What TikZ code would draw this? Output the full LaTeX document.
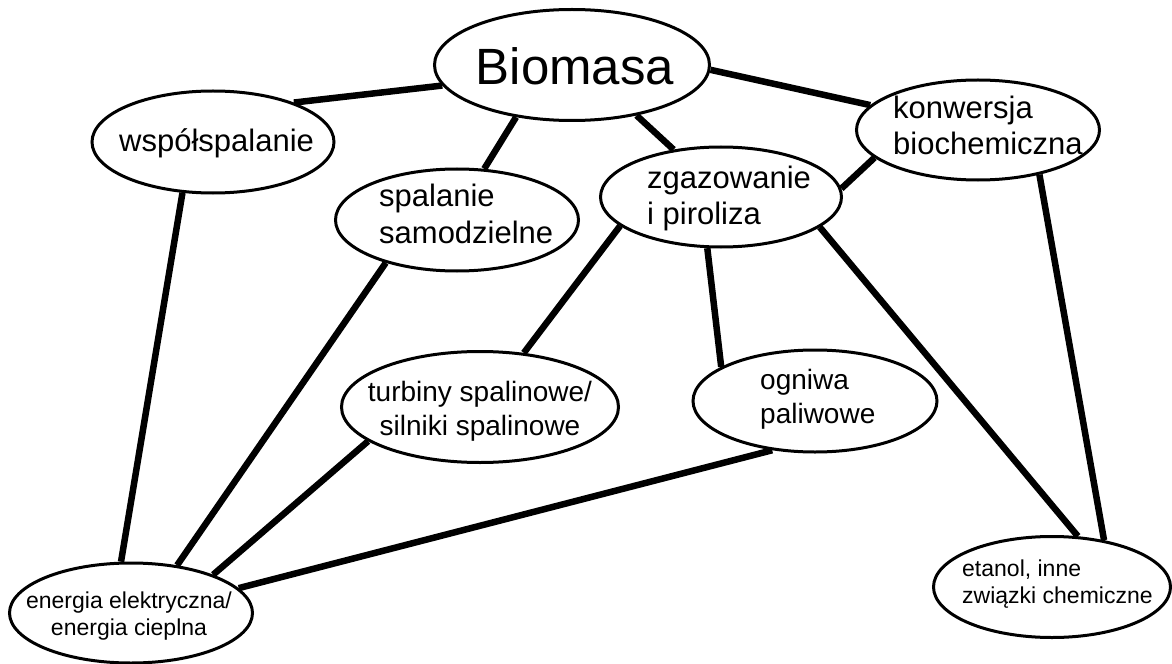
\documentclass[tikz,border=0pt]{standalone}
\usepackage{fontspec}
\setmainfont{Liberation Sans}
\usetikzlibrary{shapes.geometric}
\tikzset{
  bub/.style={ellipse, draw=black, line width=3bp, fill=white, inner sep=0pt},
  conn/.style={line width=6.5bp, line cap=butt, draw=black},
  lbl/.style={inner sep=0pt, text=black},
  fbig/.style={font=\fontsize{51bp}{60bp}\selectfont},
  fmid/.style={font=\fontsize{31bp}{36.5bp}\selectfont},
  fsm/.style={font=\fontsize{28bp}{34bp}\selectfont},
  ftiny/.style={font=\fontsize{23bp}{26.5bp}\selectfont},
}
\begin{document}
\begin{tikzpicture}[x=1bp,y=-1bp]
\useasboundingbox (0,0) rectangle (1172,664);
% ellipses
\node[bub, minimum width=275bp, minimum height=111bp] (bio) at (572,65) {};
\node[bub, minimum width=242bp, minimum height=102bp] (wsp) at (213,142) {};
\node[bub, minimum width=243bp, minimum height=102bp] (spal) at (457,220) {};
\node[bub, minimum width=241bp, minimum height=100bp] (zgaz) at (721,197) {};
\node[bub, minimum width=243bp, minimum height=100bp] (konw) at (978,130) {};
\node[bub, minimum width=277bp, minimum height=111bp] (turb) at (480,407) {};
\node[bub, minimum width=244bp, minimum height=102bp] (ogn) at (815,401) {};
\node[bub, minimum width=243bp, minimum height=100bp] (ener) at (131,613) {};
\node[bub, minimum width=237bp, minimum height=101bp] (etan) at (1052,587) {};
% connectors
\draw[conn] (bio.189.3) -- (wsp.26.6);
\draw[conn] (bio.223.9) -- (spal.62);
\draw[conn] (bio.322.4) -- (zgaz.135);
\draw[conn] (bio.358) -- (konw.167.4);
\draw[conn] (zgaz.4.8) -- (konw.195.3);
\draw[conn] (konw.324) -- (etan.42.7);
\draw[conn] (zgaz.343.5) -- (etan.63);
\draw[conn] (zgaz.255.4) -- (ogn.160.5);
\draw[conn] (zgaz.196.2) -- (turb.51.6);
\draw[conn] (wsp.239) -- (ener.101.3);
\draw[conn] (spal.211.6) -- (ener.46.8);
\draw[conn] (turb.197.7) -- (ener.25.1);
\draw[conn] (ogn.229) -- (ener.13);
% labels (base anchor = baseline of last line)
\node[lbl, fbig, anchor=base] (biot) at (575,85) {Biomasa};
\node[lbl, fmid, anchor=base west] (wspt) at (119,152) {współspalanie};
\node[lbl, fmid, anchor=base west, align=left] (spalt) at (379,243) {spalanie\\samodzielne};
\node[lbl, fmid, anchor=base west, align=left] (zgazt) at (647,225) {zgazowanie\\i piroliza};
\node[lbl, fmid, anchor=base west, align=left] (konwt) at (893,155) {konwersja\\biochemiczna};
\node[lbl, fsm, anchor=base, align=center] (turbt) at (480,435) {turbiny spalinowe/\\silniki spalinowe};
\node[lbl, fsm, anchor=base west, align=left] (ognt) at (760,423) {ogniwa\\paliwowe};
\node[lbl, ftiny, anchor=base, align=center] (enert) at (129,635) {energia elektryczna/\\energia cieplna};
\node[lbl, ftiny, anchor=base west, align=left] (etant) at (962,603) {etanol, inne\\związki chemiczne};
\end{tikzpicture}
\end{document}
